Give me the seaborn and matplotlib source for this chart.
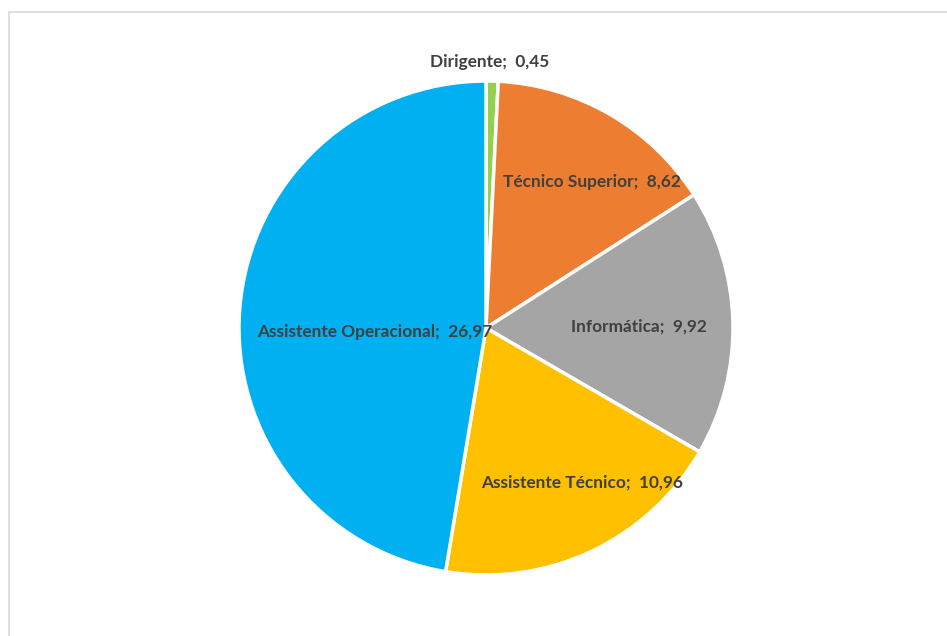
import matplotlib
matplotlib.use("Agg")
import matplotlib.pyplot as plt
import seaborn as sns
from matplotlib.patches import Rectangle

sns.set_theme(style="white")
plt.rcParams["font.family"] = ["Lato", "DejaVu Sans"]

# Distribution by category
categories = ["Dirigente", "Técnico Superior", "Informática",
              "Assistente Técnico", "Assistente Operacional"]
values = [0.45, 8.62, 9.92, 10.96, 26.97]
colors = ["#92D050", "#ED7D31", "#A5A5A5", "#FFC000", "#00B0F0"]

# Label anchor points, in units of the pie radius
label_pos = [(0.015, 1.075), (0.43, 0.59), (0.62, 0.005), (0.39, -0.625), (-0.45, -0.015)]

W, H = 947, 636
fig = plt.figure(figsize=(W / 100, H / 100), dpi=100)
fig.patch.set_facecolor("white")

# Chart area frame
fig.add_artist(Rectangle((8.5 / W, -0.2), 1.5, 1.2 - 11.5 / H,
                         transform=fig.transFigure, fill=False,
                         edgecolor="#D9D9D9", linewidth=1.2))

cx, cy, r = 486, 328, 247
ax = fig.add_axes([(cx - r) / W, (H - cy - r) / H, 2 * r / W, 2 * r / H])
ax.pie(values, colors=colors, startangle=90, counterclock=False, radius=1,
       wedgeprops=dict(edgecolor="white", linewidth=2.5))
ax.set_xlim(-1, 1)
ax.set_ylim(-1, 1)
ax.set_aspect("equal")
ax.axis("off")

for name, v, (lx, ly) in zip(categories, values, label_pos):
    txt = f"{name};  {v:.2f}".replace(".", ",")
    ax.text(lx, ly, txt, ha="center", va="center", fontsize=12.4,
            fontweight="bold", color="#404040", clip_on=False)

fig.savefig("out.png", dpi=100, facecolor="white")
